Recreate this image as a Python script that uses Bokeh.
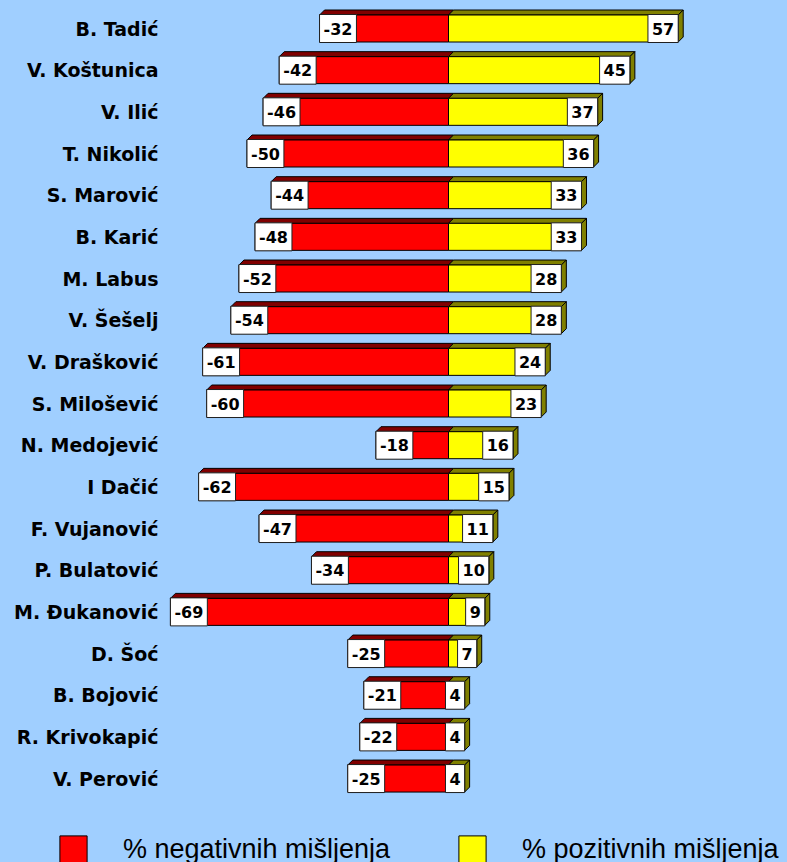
from bokeh.plotting import figure
from bokeh.models import Range1d, Legend, LegendItem
from bokeh.core.properties import value
from bokeh.embed import file_html
from bokeh.resources import INLINE

# ---- data ----
names = ["B. Tadić", "V. Koštunica", "V. Ilić", "T. Nikolić", "S. Marović",
         "B. Karić", "M. Labus", "V. Šešelj", "V. Drašković", "S. Milošević",
         "N. Medojević", "I Dačić", "F. Vujanović", "P. Bulatović", "M. Đukanović",
         "D. Šoć", "B. Bojović", "R. Krivokapić", "V. Perović"]
negative = [-32, -42, -46, -50, -44, -48, -52, -54, -61, -60,
            -18, -62, -47, -34, -69, -25, -21, -22, -25]
positive = [57, 45, 37, 36, 33, 33, 28, 28, 24, 23,
            16, 15, 11, 10, 9, 7, 4, 4, 4]
legend_labels = ["% negativnih mišljenja", "% pozitivnih mišljenja"]

# ---- layout / style ----
BG = "#a0cfff"
RED, DARK_RED = "#ff0000", "#800000"
YEL, DARK_YEL = "#ffff00", "#808000"
W, H = 787, 862
PX_PER_UNIT = 4.03
ZERO_PX = 448
ROW_PX = 41.67
FIRST_ROW_PX = 28
FACE_PX = 27
DEPTH_PX = 5

x_range = Range1d(-ZERO_PX / PX_PER_UNIT, (W - ZERO_PX) / PX_PER_UNIT)
y_range = Range1d((H - FIRST_ROW_PX) / ROW_PX, -FIRST_ROW_PX / ROW_PX)

p = figure(width=W, height=H, x_range=x_range, y_range=y_range,
           output_backend="svg", toolbar_location=None, min_border=0,
           x_axis_location=None, y_axis_location=None)
p.grid.visible = False
p.outline_line_color = None
p.background_fill_color = BG
p.border_fill_color = BG

rows = list(range(len(names)))
h = FACE_PX / 2 / ROW_PX
dx = DEPTH_PX / PX_PER_UNIT
dy = DEPTH_PX / ROW_PX

# 3D top bands and side
red_top_x = [[n, n + dx, dx, 0] for n in negative]
top_y = [[r - h, r - h - dy, r - h - dy, r - h] for r in rows]
yel_top_x = [[0, dx, v + dx, v] for v in positive]
side_x = [[v, v + dx, v + dx, v] for v in positive]
side_y = [[r - h, r - h - dy, r + h - dy, r + h] for r in rows]

p.patches(xs=red_top_x, ys=top_y, fill_color=DARK_RED, line_color="black", line_width=1)
p.patches(xs=yel_top_x, ys=top_y, fill_color=DARK_YEL, line_color="black", line_width=1)
p.patches(xs=side_x, ys=side_y, fill_color=DARK_YEL, line_color="black", line_width=1)

top = [r - h for r in rows]
bottom = [r + h for r in rows]
zeros = [0] * len(rows)
r_red = p.quad(left=negative, right=zeros, top=top, bottom=bottom,
               fill_color=RED, line_color="black", line_width=1)
r_yel = p.quad(left=zeros, right=positive, top=top, bottom=bottom,
               fill_color=YEL, line_color="black", line_width=1)

# value boxes
box_kw = dict(text_font=value("DejaVu Sans"), text_font_style="bold",
              text_font_size="16px", text_color="black", text_baseline="middle",
              background_fill_color="white", border_line_color="#202020",
              border_line_width=1, padding=dict(left=4, right=4, top=8, bottom=8))
p.text(x=negative, y=rows, text=[str(v) for v in negative], text_align="left", **box_kw)
p.text(x=positive, y=rows, text=[str(v) for v in positive], text_align="right", **box_kw)

# names
name_x = (158 - ZERO_PX) / PX_PER_UNIT
p.text(x=[name_x] * len(rows), y=rows, text=names, text_align="right",
       text_baseline="middle", text_font=value("DejaVu Sans"),
       text_font_style="bold", text_font_size="19px", text_color="black")

# legend (two single-item legends)
for renderer, label, loc in [(r_red, legend_labels[0], (56, -4)),
                             (r_yel, legend_labels[1], (455, -4))]:
    lg = Legend(items=[LegendItem(label=label, renderers=[renderer])],
                location=loc, orientation="horizontal",
                glyph_width=34, glyph_height=34, label_height=34,
                label_standoff=33, padding=0, margin=0, spacing=0,
                background_fill_alpha=0, border_line_alpha=0,
                label_text_font="Liberation Sans", label_text_font_size="27px",
                label_text_color="black")
    p.add_layout(lg)

html = file_html(p, INLINE, title="chart")
html = html.replace("<head>", "<head><style>html,body{margin:0;padding:0;overflow:hidden;background:%s}</style>" % BG, 1)
open("out.html", "w").write(html)
